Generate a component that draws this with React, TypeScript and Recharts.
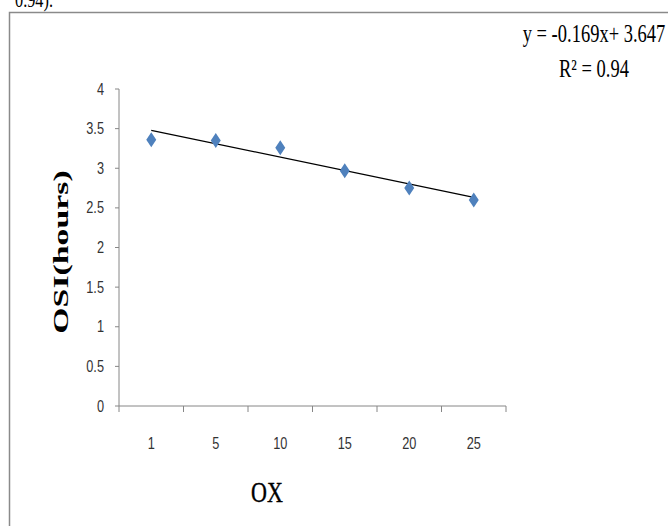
import React from "react"
import { ComposedChart, Line, Scatter, XAxis, YAxis } from "recharts"

// OX dose categories (x axis) and measured OSI values in hours
const categories = ["1", "5", "10", "15", "20", "25"]
const osiValues = [3.36, 3.35, 3.26, 2.97, 2.75, 2.6]
// linear trendline end points (y = -0.169x + 3.647)
const trendValues = [3.478, null, null, null, null, 2.633]
const yTicks = [0, 0.5, 1, 1.5, 2, 2.5, 3, 3.5, 4]

const equationText = "y = -0.169x+ 3.647"
const r2Text = "R² = 0.94"
const xTitle = "OX"
const yTitle = "OSI(hours)"

const AXIS = "#868686"
const MARKER = "#4F81BD"
const tickFont = "'Liberation Sans', Arial, sans-serif"
const serif = "'Liberation Serif', 'Times New Roman', serif"

const chartData = categories.map((c, i) => ({
  idx: i + 1,
  label: c,
  osi: osiValues[i],
  trend: trendValues[i],
}))

// band edges get a tick mark, band centres get the category label
const xTicks = categories.flatMap((_, i) => [i + 0.5, i + 1]).concat(categories.length + 0.5)

function XTick(props: any) {
  const { x, y, payload } = props
  const v = payload.value as number
  if (Number.isInteger(v)) {
    return (
      <text
        transform={`translate(${x},${y + 31}) scale(0.85,1.05)`}
        dy="0.355em"
        textAnchor="middle"
        fill="#333"
        fontSize={15}
        fontFamily={tickFont}
      >
        {categories[v - 1]}
      </text>
    )
  }
  return <line x1={x} x2={x} y1={y - 6} y2={y} stroke={AXIS} strokeWidth={1} />
}

function YTick(props: any) {
  const { x, y, payload } = props
  return (
    <text
      transform={`translate(${x},${y}) scale(0.85,1.05)`}
      dy="0.355em"
      textAnchor="end"
      fill="#333"
      fontSize={15}
      fontFamily={tickFont}
    >
      {payload.value}
    </text>
  )
}

function Diamond(props: any) {
  const { cx, cy } = props
  if (cx == null || cy == null) return null
  return <path d={`M${cx},${cy - 7.5} L${cx + 5},${cy} L${cx},${cy + 7.5} L${cx - 5},${cy} Z`} fill={MARKER} />
}

export default function App() {
  return (
    <div style={{ position: "absolute", left: 0, top: 0, width: 668, height: 526, overflow: "hidden", background: "#fff" }}>
      <ComposedChart
        width={668}
        height={526}
        data={chartData}
        margin={{ top: 89, right: 162, bottom: 60, left: 59 }}
      >
        <XAxis
          dataKey="idx"
          type="number"
          domain={[0.5, categories.length + 0.5]}
          ticks={xTicks}
          interval={0}
          height={60}
          tickSize={6}
          tickMargin={0}
          tickLine={false}
          axisLine={{ stroke: AXIS, strokeWidth: 1 }}
          tick={<XTick />}
        />
        <YAxis
          type="number"
          domain={[0, 4]}
          ticks={yTicks}
          interval={0}
          width={60}
          tickSize={4}
          tickMargin={11}
          axisLine={{ stroke: AXIS, strokeWidth: 1 }}
          tickLine={{ stroke: AXIS, strokeWidth: 1 }}
          tick={<YTick />}
        />
        <Line
          dataKey="trend"
          stroke="#000"
          strokeWidth={1.3}
          dot={false}
          activeDot={false}
          connectNulls
          isAnimationActive={false}
        />
        <Scatter dataKey="osi" shape={<Diamond />} isAnimationActive={false} />
      </ComposedChart>

      <svg width={668} height={526} style={{ position: "absolute", left: 0, top: 0, pointerEvents: "none" }}>
        <path d="M9.5,526 V12.5 H668" fill="none" stroke="#8a8a8a" strokeWidth={1.5} />
        <text transform="translate(53,7) scale(0.74,1)" textAnchor="end" fontSize={22} fontFamily={serif} fill="#000">
          0.94).
        </text>
        <text transform="translate(594,42) scale(0.74,1)" textAnchor="middle" fontSize={25} fontFamily={serif} fill="#000">
          {equationText}
        </text>
        <text transform="translate(594,77) scale(0.74,1)" textAnchor="middle" fontSize={25} fontFamily={serif} fill="#000">
          {r2Text}
        </text>
        <text
          transform="translate(267,502) scale(0.76,1)"
          textAnchor="middle"
          fontSize={29}
          fontFamily={serif}
          fill="#000"
          stroke="#000"
          strokeWidth={0.4}
        >
          {xTitle}
        </text>
        <text
          transform="translate(68,252) rotate(-90) scale(1.69,1)"
          textAnchor="middle"
          fontSize={20}
          fontWeight="bold"
          fontFamily={serif}
          fill="#000"
        >
          {yTitle}
        </text>
      </svg>
    </div>
  )
}
